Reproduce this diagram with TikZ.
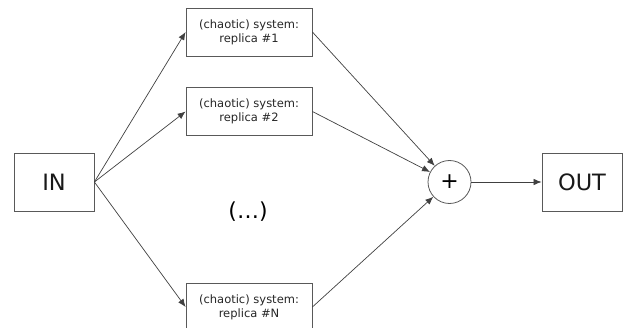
\documentclass[tikz,border=0pt]{standalone}
\usepackage{fontspec}
\setmainfont{DejaVu Sans}
\usetikzlibrary{arrows.meta}

\begin{document}
\begin{tikzpicture}[x=1pt,y=1pt,>={Latex[length=8pt,width=6.5pt]},
  blk/.style={draw=black!65,line width=0.8pt,minimum width=126pt,minimum height=48pt,
    inner sep=0pt,align=center,text=black!85,font=\fontsize{11.5}{14}\selectfont},
  iobox/.style={draw=black!65,line width=0.8pt,minimum width=80pt,minimum height=58pt,
    text=black!90,font=\fontsize{22.5}{26}\selectfont},
  sumnode/.style={draw=black!65,line width=0.8pt,circle,minimum size=43pt,inner sep=0pt,
    font=\fontsize{22}{26}\selectfont},
  wire/.style={->,draw=black!75,line width=0.7pt}]
 \clip (0,0) rectangle (626,327);
 % input, replicas, sum, output
 \node[iobox] (in) at (54,145) {IN};
 \node[blk] (r1) at (249,295) {(chaotic) system:\\replica \#1};
 \node[blk] (r2) at (249,215.5) {(chaotic) system:\\replica \#2};
 \node[blk] (rN) at (249,20) {(chaotic) system:\\replica \#N};
 \node (dots) at (248,115) {\fontsize{22}{26}\selectfont(\dots)};
 \node[sumnode] (sum) at (449.5,145) {+};
 \node[iobox] (out) at (582,145) {OUT};
 \foreach \r in {r1,r2,rN}{
  \draw[wire] (in.east) -- (\r.west);
  \draw[wire] (\r.east) -- (sum);
 }
 \draw[wire] (sum) -- (out);
\end{tikzpicture}
\end{document}
